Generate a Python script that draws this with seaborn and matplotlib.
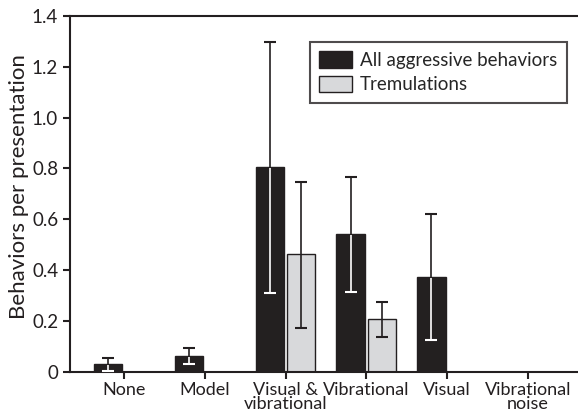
import matplotlib
matplotlib.use("Agg")
import numpy as np
import pandas as pd
import matplotlib.pyplot as plt
import seaborn as sns

conditions = ["None", "Model", "Visual &\nvibrational", "Vibrational", "Visual", "Vibrational\nnoise"]
aggressive = [0.030, 0.063, 0.806, 0.541, 0.375, 0.0]
aggressive_lo = [0.005, 0.030, 0.309, 0.316, 0.126, 0.0]
aggressive_hi = [0.054, 0.094, 1.296, 0.767, 0.620, 0.0]
tremulations = [0.0, 0.0, 0.464, 0.208, 0.0, 0.0]
tremulations_lo = [0.0, 0.0, 0.173, 0.136, 0.0, 0.0]
tremulations_hi = [0.0, 0.0, 0.748, 0.274, 0.0, 0.0]
series = ["All aggressive behaviors", "Tremulations"]

sns.set_theme(style="ticks")
plt.rcParams['font.family'] = ['Lato', 'DejaVu Sans']

df = pd.DataFrame({
    "condition": conditions * 2,
    "value": aggressive + tremulations,
    "lo": aggressive_lo + tremulations_lo,
    "hi": aggressive_hi + tremulations_hi,
    "series": [series[0]] * 6 + [series[1]] * 6,
})

fig = plt.figure(figsize=(5.78, 4.17), dpi=100)
ax = fig.add_axes([0.121, 0.108, 0.879, 0.854])
sns.barplot(data=df, x="condition", y="value", hue="series",
            palette=["#231f20", "#d8d9db"], width=0.78, gap=0.1,
            edgecolor="#231f20", linewidth=1.0, ax=ax)

for patch, (_, row) in zip(ax.patches[:12], df.iterrows()):
    if row["hi"] <= 0:
        continue
    xc = patch.get_x() + patch.get_width() / 2
    v = row["value"]
    ax.errorbar(xc, v, yerr=[[v - row["lo"]], [row["hi"] - v]], fmt="none",
                ecolor="#231f20", elinewidth=1.2, capsize=4, capthick=1.5, zorder=5)
    if row["series"] == series[0]:
        # the part inside the dark bar is white
        ax.vlines(xc, row["lo"], v - 0.004, color="white", lw=1.2, zorder=6)
        ax.plot(xc, row["lo"], marker="_", ms=8, mew=1.5, color="white", zorder=6)

ax.set_xlim(-0.668, 5.62)
ax.set_ylim(0, 1.4)
ax.set_yticks([0, 0.2, 0.4, 0.6, 0.8, 1.0, 1.2, 1.4])
ax.set_yticklabels(["0", "0.2", "0.4", "0.6", "0.8", "1.0", "1.2", "1.4"])
ax.set_xlabel("")
ax.set_ylabel("Behaviors per presentation", fontsize=16, color="#231f20")
ax.yaxis.set_label_coords(-0.08, 0.52)
ax.tick_params(axis="both", labelsize=13.5, colors="#231f20", width=1.5, length=5)
ax.tick_params(axis="x", labelsize=13, pad=2)
for lbl in ax.get_xticklabels():
    lbl.set_linespacing(0.85)
for s in ["left", "bottom", "top"]:
    ax.spines[s].set_linewidth(1.5)
    ax.spines[s].set_color("#231f20")
ax.spines["right"].set_visible(False)

leg = ax.legend(loc="upper right", bbox_to_anchor=(0.978, 0.927), borderaxespad=0,
                fontsize=13.5, frameon=True, fancybox=False, edgecolor="#231f20",
                handlelength=1.75, handleheight=1.0, borderpad=0.5,
                labelspacing=0.35, handletextpad=0.45)
leg.get_frame().set_linewidth(1.5)

fig.savefig("out.png", dpi=100)
